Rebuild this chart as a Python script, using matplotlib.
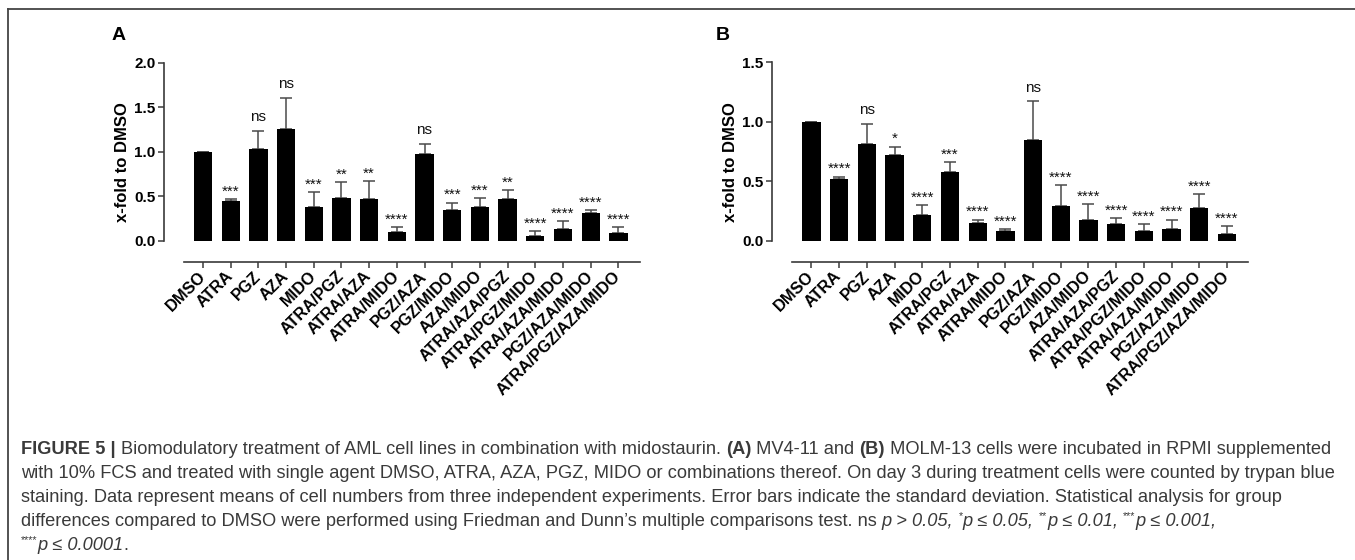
import matplotlib
matplotlib.use("Agg")
import matplotlib.pyplot as plt
from matplotlib.lines import Line2D

plt.rcParams['font.family'] = ['Liberation Sans', 'DejaVu Sans']

groups = ['DMSO', 'ATRA', 'PGZ', 'AZA', 'MIDO', 'ATRA/PGZ', 'ATRA/AZA', 'ATRA/MIDO',
          'PGZ/AZA', 'PGZ/MIDO', 'AZA/MIDO', 'ATRA/AZA/PGZ', 'ATRA/PGZ/MIDO',
          'ATRA/AZA/MIDO', 'PGZ/AZA/MIDO', 'ATRA/PGZ/AZA/MIDO']

# panel A: MV4-11
mean_a = [1.0, 0.45, 1.03, 1.26, 0.38, 0.48, 0.47, 0.10, 0.98, 0.35, 0.38, 0.47, 0.06, 0.135, 0.31, 0.09]
sd_a = [0.0, 0.02, 0.21, 0.35, 0.17, 0.18, 0.20, 0.06, 0.11, 0.08, 0.10, 0.10, 0.05, 0.09, 0.035, 0.07]
sig_a = ['', '***', 'ns', 'ns', '***', '**', '**', '****', 'ns', '***', '***', '**',
         '****', '****', '****', '****']

# panel B: MOLM-13
mean_b = [1.0, 0.52, 0.81, 0.72, 0.22, 0.58, 0.15, 0.08, 0.85, 0.29, 0.18, 0.145, 0.085, 0.10, 0.28, 0.056]
sd_b = [0.0, 0.02, 0.17, 0.07, 0.08, 0.08, 0.03, 0.02, 0.32, 0.18, 0.13, 0.045, 0.055, 0.08, 0.11, 0.07]
sig_b = ['', '****', 'ns', '*', '****', '***', '****', '****', 'ns', '****', '****', '****',
         '****', '****', '****', '****']

W, H = 1355, 560
fig = plt.figure(figsize=(W / 100, H / 100), dpi=100)
spine_col = '#3a3a3a'


def panel(rect, means, sds, sigs, ylim, yticks, xlim, xstart, letter, letter_x):
    ax = fig.add_axes([rect[0] / W, (H - rect[3]) / H, (rect[2] - rect[0]) / W, (rect[3] - rect[1]) / H])
    x = list(range(len(groups)))
    ax.bar(x, means, width=0.66, color='black', zorder=2)
    ax.errorbar(x, means, yerr=[[0] * len(sds), sds], fmt='none', ecolor='#4a4a4a',
                elinewidth=1.1, capsize=4, capthick=1.1, zorder=1)
    for xi, m, s, lab in zip(x, means, sds, sigs):
        if not lab:
            continue
        off = 7 if lab == 'ns' else 2.5
        ax.annotate(lab, (xi, m + s), xytext=(0, off), textcoords='offset points',
                    ha='center', va='baseline', fontsize=11, color='#111111')
    ax.set_ylim(*ylim)
    ax.set_xlim(*xlim)
    ax.set_yticks(yticks)
    ax.set_yticklabels(['%.1f' % t for t in yticks], fontsize=11, fontweight='bold')
    ax.set_xticks(x)
    ax.set_xticklabels(groups, rotation=45, ha='right', va='center', rotation_mode='anchor',
                       fontsize=11.8, fontweight='bold')
    ax.spines['top'].set_visible(False)
    ax.spines['right'].set_visible(False)
    ax.spines['left'].set_bounds(0, yticks[-1])
    ax.spines['bottom'].set_bounds(xstart, xlim[1])
    for s in ('left', 'bottom'):
        ax.spines[s].set_color(spine_col)
        ax.spines[s].set_linewidth(1.2)
    ax.tick_params(axis='both', colors=spine_col, length=4.5, width=1.1, labelcolor='black')
    ax.tick_params(axis='x', pad=4)
    ax.tick_params(axis='y', pad=1.5)
    ax.set_ylabel('x-fold to DMSO', fontsize=12, fontweight='bold', labelpad=3)
    ax.patch.set_visible(False)
    fig.text(letter_x / W, 1 - 35 / H, letter, fontsize=14, fontweight='bold',
             ha='center', va='center')
    return ax


panel((164, 63, 640, 262), mean_a, sd_a, sig_a, (-0.236, 2.0), [0, 0.5, 1.0, 1.5, 2.0],
      (-1.408, 15.78), -0.686, 'A', 119)
panel((772, 62, 1248, 262), mean_b, sd_b, sig_b, (-0.176, 1.5), [0, 0.5, 1.0, 1.5],
      (-1.426, 15.76), -0.704, 'B', 723)

# frame lines
fig.add_artist(Line2D([8 / W, 1], [1 - 8.5 / H, 1 - 8.5 / H], color='#444444', lw=1.3,
                      transform=fig.transFigure))
fig.add_artist(Line2D([8 / W, 8 / W], [0, 1 - 8.5 / H], color='#444444', lw=1.3,
                      transform=fig.transFigure))

# caption
cap_col = '#3a3a3a'
renderer = fig.canvas.get_renderer()
left_px = 21


def rich(y_px, parts, size):
    x = left_px / W
    arts = []
    for txt, style in parts:
        kw = dict(fontsize=size, color=cap_col, va='center', ha='left')
        yy = 1 - y_px / H
        if 'b' in style:
            kw['fontweight'] = 'bold'
        if 'i' in style:
            kw['fontstyle'] = 'italic'
        if 's' in style:
            kw['fontsize'] = size * 0.6
            yy += 5 / H
        t = fig.text(x, yy, txt, **kw)
        arts.append(t)
        x += t.get_window_extent(renderer).width / W
    return arts, x * W


lines = [
    [('FIGURE 5 | ', 'b'),
     ('Biomodulatory treatment of AML cell lines in combination with midostaurin. ', ''),
     ('(A)', 'b'), (' MV4-11 and ', ''), ('(B)', 'b'),
     (' MOLM-13 cells were incubated in RPMI supplemented', '')],
    [('with 10% FCS and treated with single agent DMSO, ATRA, AZA, PGZ, MIDO or combinations '
      'thereof. On day 3 during treatment cells were counted by trypan blue', '')],
    [('staining. Data represent means of cell numbers from three independent experiments. '
      'Error bars indicate the standard deviation. Statistical analysis for group', '')],
    [('differences compared to DMSO were performed using Friedman and Dunn\u2019s multiple '
      'comparisons test. ns ', ''), ('p > 0.05, ', 'i'), ('*', 's'), ('p \u2264 0.05, ', 'i'),
     ('**', 's'), ('p \u2264 0.01, ', 'i'), ('***', 's'), ('p \u2264 0.001,', 'i')],
    [('****', 's'), ('p \u2264 0.0001', 'i'), ('.', '')],
]
line_y = [449, 473, 497, 521, 545]

# fit the caption font size so the first line spans the frame width
probe, end_px = rich(line_y[0], lines[0], 10)
for t in probe:
    t.remove()
cap_size = 10 * (1330 - left_px) / (end_px - left_px)
for yp, parts in zip(line_y, lines):
    rich(yp, parts, cap_size)

fig.savefig('out.png', dpi=100)
